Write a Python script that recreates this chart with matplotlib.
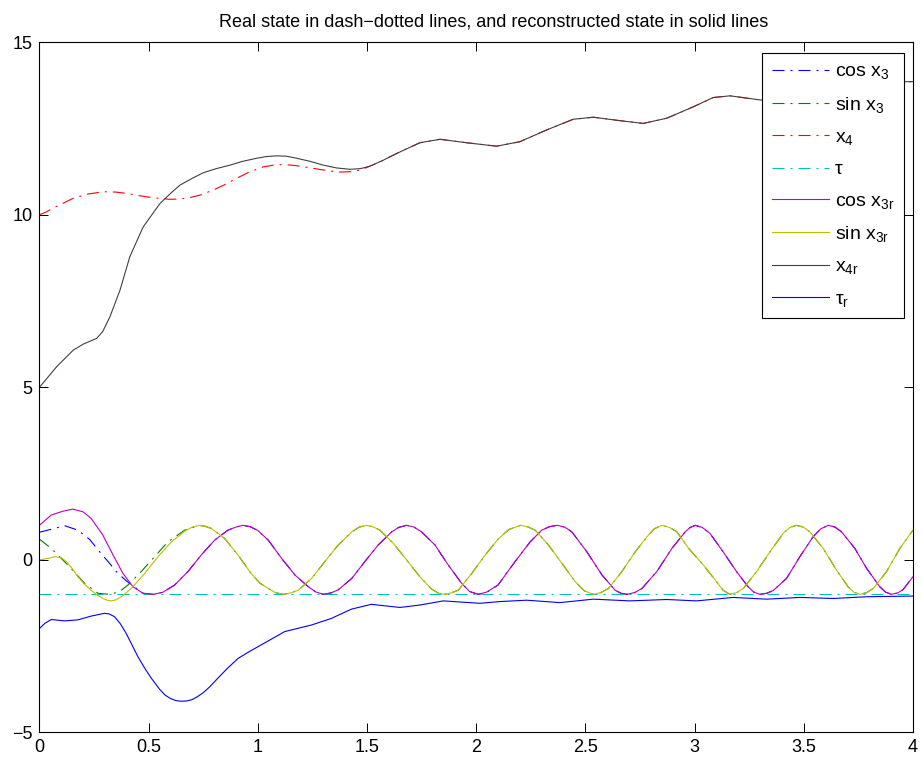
import matplotlib
matplotlib.use('Agg')
import matplotlib.pyplot as plt

plt.rcParams['font.family'] = ['Liberation Sans', 'DejaVu Sans']
plt.rcParams['mathtext.fontset'] = 'custom'
plt.rcParams['mathtext.rm'] = 'Liberation Sans'
plt.rcParams['mathtext.it'] = 'Liberation Sans'

# reconstructed state (solid lines)
cos_x3r_t = [0, 0.054, 0.108, 0.153, 0.2, 0.237, 0.29, 0.337, 0.382, 0.428, 0.474, 0.52,
             0.565, 0.619, 0.68, 0.741, 0.802, 0.863, 0.9, 0.932, 0.965, 1.0, 1.048,
             1.109, 1.17, 1.231, 1.265, 1.30, 1.335, 1.368, 1.43, 1.49, 1.551, 1.613,
             1.645, 1.681, 1.715, 1.75, 1.811, 1.872, 1.933, 1.97, 2.01, 2.05, 2.10,
             2.178, 2.247, 2.30, 2.335, 2.37, 2.405, 2.438, 2.507, 2.576, 2.636, 2.663,
             2.69, 2.725, 2.759, 2.827, 2.896, 2.957, 2.98, 3.003, 3.035, 3.07, 3.131,
             3.192, 3.245, 3.272, 3.299, 3.33, 3.36, 3.421, 3.482, 3.543, 3.578, 3.612,
             3.643, 3.673, 3.734, 3.788, 3.848, 3.875, 3.902, 3.93, 3.955, 4.0]
cos_x3r = [1.0, 1.30, 1.41, 1.47, 1.39, 1.2, 0.72, 0.14, -0.39, -0.78, -0.97, -1.0,
           -0.94, -0.73, -0.34, 0.14, 0.57, 0.86, 0.95, 1.0, 0.96, 0.85, 0.57,
           0.04, -0.44, -0.78, -0.93, -1.0, -0.96, -0.87, -0.54, -0.05, 0.43, 0.81,
           0.94, 1.0, 0.95, 0.81, 0.43, -0.15, -0.68, -0.92, -1.0, -0.93, -0.73,
           -0.05, 0.52, 0.86, 0.96, 1.0, 0.95, 0.81, 0.23, -0.44, -0.88, -0.97,
           -1.0, -0.95, -0.83, -0.34, 0.33, 0.81, 0.94, 1.0, 0.94, 0.77, 0.23,
           -0.34, -0.78, -0.94, -1.0, -0.97, -0.89, -0.54, 0.09, 0.67, 0.9, 1.0,
           0.95, 0.81, 0.33, -0.25, -0.78, -0.94, -1.0, -0.96, -0.86, -0.49]

sin_x3r_t = [0, 0.039, 0.07, 0.1, 0.123, 0.15, 0.176, 0.205, 0.237, 0.265, 0.291, 0.31,
             0.329, 0.35, 0.375, 0.4, 0.428, 0.482, 0.543, 0.604, 0.665, 0.70, 0.733,
             0.76, 0.787, 0.848, 0.909, 0.97, 1.01, 1.048, 1.08, 1.116, 1.15, 1.185,
             1.246, 1.307, 1.368, 1.43, 1.465, 1.498, 1.53, 1.559, 1.62, 1.681, 1.742,
             1.796, 1.825, 1.854, 1.885, 1.918, 1.98, 2.041, 2.103, 2.15, 2.202, 2.235,
             2.27, 2.331, 2.392, 2.453, 2.495, 2.537, 2.57, 2.606, 2.667, 2.728, 2.782,
             2.815, 2.85, 2.885, 2.919, 2.973, 3.04, 3.1, 3.13, 3.162, 3.193, 3.223,
             3.284, 3.345, 3.406, 3.437, 3.467, 3.498, 3.528, 3.589, 3.65, 3.703, 3.73,
             3.757, 3.788, 3.818, 3.879, 3.94, 4.0]
sin_x3r = [0.0, 0.04, 0.09, 0.06, -0.05, -0.25, -0.49, -0.7, -0.88, -1.02, -1.12, -1.17,
           -1.19, -1.16, -1.07, -0.94, -0.78, -0.39, 0.09, 0.52, 0.83, 0.95, 1.0,
           0.97, 0.91, 0.62, 0.14, -0.4, -0.68, -0.83, -0.95, -1.0, -0.96, -0.88,
           -0.54, -0.05, 0.43, 0.81, 0.95, 1.0, 0.95, 0.86, 0.48, 0.0, -0.49,
           -0.85, -0.96, -1.0, -0.96, -0.88, -0.39, 0.14, 0.62, 0.88, 1.0, 0.96,
           0.86, 0.43, -0.1, -0.63, -0.9, -1.0, -0.95, -0.83, -0.34, 0.23, 0.67,
           0.9, 1.0, 0.94, 0.81, 0.33, -0.15, -0.63, -0.88, -1.0, -0.95, -0.83,
           -0.34, 0.23, 0.77, 0.94, 1.0, 0.95, 0.81, 0.33, -0.3, -0.78, -0.94,
           -1.0, -0.95, -0.83, -0.34, 0.33, 0.86]

x4r_t = [0, 0.079, 0.155, 0.2, 0.262, 0.29, 0.323, 0.369, 0.414, 0.475, 0.552, 0.6,
         0.643, 0.7, 0.75, 0.81, 0.872, 0.93, 0.994, 1.04, 1.086, 1.13, 1.178, 1.24,
         1.3, 1.36, 1.422, 1.47, 1.513, 1.57, 1.636, 1.742, 1.834, 1.956, 2.093, 2.2,
         2.322, 2.444, 2.536, 2.658, 2.765, 2.872, 2.994, 3.085, 3.162, 3.3, 3.45, 3.6,
         3.75, 3.9, 4.0]
x4r = [5.0, 5.6, 6.08, 6.25, 6.42, 6.62, 7.05, 7.82, 8.79, 9.65, 10.33, 10.62,
       10.86, 11.06, 11.22, 11.34, 11.44, 11.55, 11.64, 11.69, 11.71, 11.7, 11.64, 11.55,
       11.44, 11.36, 11.32, 11.34, 11.41, 11.57, 11.78, 12.09, 12.19, 12.09, 11.99, 12.12,
       12.46, 12.77, 12.83, 12.73, 12.65, 12.8, 13.13, 13.4, 13.45, 13.33, 13.32, 13.5,
       13.75, 13.86, 13.86]

tau_r_t = [0, 0.025, 0.054, 0.115, 0.176, 0.237, 0.298, 0.32, 0.344, 0.37, 0.397, 0.42,
           0.451, 0.48, 0.512, 0.55, 0.575, 0.6, 0.625, 0.65, 0.675, 0.7, 0.725, 0.75,
           0.78, 0.817, 0.86, 0.909, 0.95, 1.0, 1.123, 1.245, 1.336, 1.428, 1.519, 1.651,
           1.742, 1.849, 2.017, 2.108, 2.231, 2.383, 2.536, 2.704, 2.872, 3.009, 3.177,
           3.33, 3.482, 3.635, 3.788, 4.0]
tau_r = [-1.99, -1.84, -1.73, -1.77, -1.74, -1.63, -1.55, -1.57, -1.65, -1.85, -2.13, -2.42,
         -2.81, -3.12, -3.43, -3.75, -3.92, -4.02, -4.08, -4.1, -4.09, -4.05, -3.96, -3.85,
         -3.68, -3.43, -3.15, -2.86, -2.7, -2.52, -2.08, -1.89, -1.7, -1.43, -1.29, -1.38,
         -1.31, -1.19, -1.26, -1.21, -1.17, -1.24, -1.14, -1.19, -1.15, -1.19, -1.09,
         -1.14, -1.09, -1.12, -1.07, -1.05]

# real state (dash-dotted); after the start it lies under the reconstructed one
def tail(ts, ys, t0):
    return [t for t in ts if t >= t0], [y for t, y in zip(ts, ys) if t >= t0]

t_a, y_a = tail(cos_x3r_t, cos_x3r, 0.474)
cos_x3_t = [0, 0.07, 0.115, 0.176, 0.23, 0.276, 0.314, 0.359, 0.40] + t_a
cos_x3 = [0.8, 0.91, 0.99, 0.86, 0.59, 0.23, -0.05, -0.39, -0.62] + y_a

t_b, y_b = tail(sin_x3r_t, sin_x3r, 0.733)
sin_x3_t = [0, 0.054, 0.13, 0.207, 0.268, 0.321, 0.367, 0.405, 0.459, 0.52, 0.588,
            0.665] + t_b
sin_x3 = [0.6, 0.33, -0.15, -0.68, -0.97, -1.0, -0.92, -0.73, -0.39, 0.04, 0.52,
          0.86] + y_b

t_c, y_c = tail(x4r_t, x4r, 1.513)
x4_t = [0, 0.033, 0.07, 0.155, 0.22, 0.292, 0.35, 0.399, 0.491, 0.545, 0.598, 0.645,
        0.689, 0.74, 0.796, 0.85, 0.903, 0.96, 1.025, 1.07, 1.116, 1.17, 1.223, 1.28,
        1.33, 1.38, 1.422, 1.47] + t_c
x4 = [10.0, 10.09, 10.22, 10.48, 10.6, 10.67, 10.66, 10.62, 10.52, 10.48, 10.45, 10.46,
      10.5, 10.58, 10.72, 10.88, 11.06, 11.24, 11.39, 11.44, 11.46, 11.43, 11.38, 11.32,
      11.27, 11.24, 11.25, 11.3] + y_c

tau_t = [0, 4]
tau = [-1.0, -1.0]

xtick_vals = [0, 0.5, 1, 1.5, 2, 2.5, 3, 3.5, 4]
xtick_labels = ['0', '0.5', '1', '1.5', '2', '2.5', '3', '3.5', '4']
ytick_vals = [-5, 0, 5, 10, 15]

fig = plt.figure(figsize=(9.22, 7.63), dpi=100)
ax = fig.add_axes([0.0428, 0.0402, 0.9474, 0.9043])

dd = (10.8, 5.4, 1.8, 5.4)
lw = 0.8
ax.plot(cos_x3_t, cos_x3, color=(0, 0, 1), lw=lw, dashes=dd, label='cos x$_3$')
ax.plot(sin_x3_t, sin_x3, color=(0, 0.5, 0), lw=lw, dashes=dd, label='sin x$_3$')
ax.plot(x4_t, x4, color=(1, 0, 0), lw=lw, dashes=dd, label='x$_4$')
ax.plot(tau_t, tau, color=(0, 0.75, 0.75), lw=lw, dashes=dd, label='τ')
ax.plot(cos_x3r_t, cos_x3r, color=(0.75, 0, 0.75), lw=lw, label='cos x$_{3r}$')
ax.plot(sin_x3r_t, sin_x3r, color=(0.75, 0.75, 0), lw=lw, label='sin x$_{3r}$')
ax.plot(x4r_t, x4r, color=(0.25, 0.25, 0.25), lw=lw, label='x$_{4r}$')
ax.plot(tau_r_t, tau_r, color=(0, 0, 1), lw=lw, label='τ$_r$')

ax.set_xlim(0, 4)
ax.set_ylim(-5, 15)
ax.set_xticks(xtick_vals)
ax.set_xticklabels(xtick_labels)
ax.set_yticks(ytick_vals)
ax.tick_params(direction='in', top=True, right=True, length=6.5, width=0.7,
               labelsize=13, pad=5)
for s in ax.spines.values():
    s.set_linewidth(0.8)

ax.set_title('Real state in dash\u2212dotted lines, and reconstructed state in solid lines',
             fontsize=13, pad=11.5, x=0.52)

leg = ax.legend(loc='upper right', bbox_to_anchor=(0.9897, 0.9845), borderaxespad=0,
                fontsize=14, fancybox=False, framealpha=1, edgecolor='black',
                handlelength=2.93, handletextpad=0.3, labelspacing=0.7, borderpad=0.5)
leg.get_frame().set_linewidth(0.8)

fig.savefig('out.png', dpi=100)
